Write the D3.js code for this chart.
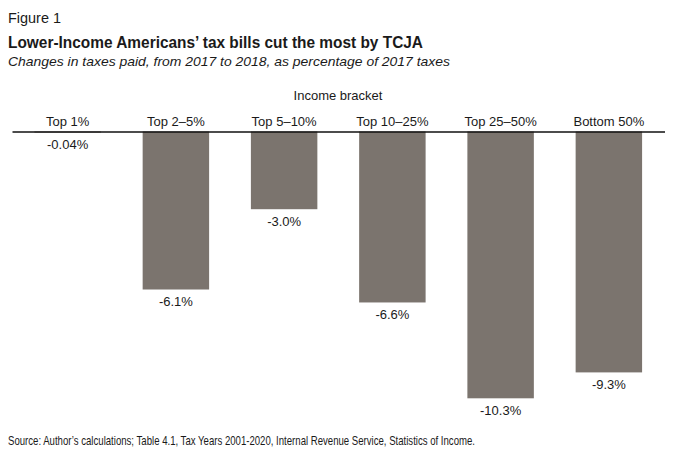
<!DOCTYPE html>
<html><head><meta charset="utf-8">
<script src="https://cdn.jsdelivr.net/npm/d3@7"></script>
<style>
body{margin:0;background:#fff;}
svg{display:block;}
text{font-family:"Liberation Sans",Arial,sans-serif;fill:#1a1a1a;}
</style></head>
<body>
<svg id="chart" width="680" height="468"></svg>
<script>
const categories = ["Top 1%", "Top 2\u20135%", "Top 5\u201310%", "Top 10\u201325%", "Top 25\u201350%", "Bottom 50%"];
const values = [-0.04, -6.1, -3.0, -6.6, -10.3, -9.3];
const valueLabels = ["-0.04%", "-6.1%", "-3.0%", "-6.6%", "-10.3%", "-9.3%"];

const svg = d3.select("#chart");
const W = 680, H = 468;
svg.append("rect").attr("width", W).attr("height", H).attr("fill", "#fff");

const x = d3.scaleBand().domain(categories).range([12, 664.5]).paddingInner(0.386).paddingOuter(0.207);
const y = d3.scaleLinear().domain([0, -10.3]).range([131.5, 398.3]);

// header
svg.append("text").attr("x", 8).attr("y", 23).attr("font-size", 14).text("Figure 1")
  .attr("textLength", 53).attr("lengthAdjust", "spacingAndGlyphs");
svg.append("text").attr("x", 8).attr("y", 48).attr("font-size", 17).attr("font-weight", "bold")
  .attr("textLength", 415).attr("lengthAdjust", "spacingAndGlyphs")
  .text("Lower-Income Americans\u2019 tax bills cut the most by TCJA");
svg.append("text").attr("x", 8).attr("y", 66).attr("font-size", 13.5).attr("font-style", "italic")
  .attr("textLength", 442).attr("lengthAdjust", "spacingAndGlyphs")
  .text("Changes in taxes paid, from 2017 to 2018, as percentage of 2017 taxes");

svg.append("text").attr("x", 338).attr("y", 100).attr("font-size", 13).attr("text-anchor", "middle")
  .text("Income bracket");

// bars
svg.selectAll("rect.bar").data(values).join("rect").attr("class", "bar")
  .attr("x", (d, i) => x(categories[i]))
  .attr("width", x.bandwidth())
  .attr("y", y(0))
  .attr("height", d => y(d) - y(0))
  .attr("fill", "#7b746e");

// axis
const axis = d3.axisTop(x).tickSize(0).tickPadding(6);
const g = svg.append("g").attr("transform", `translate(0,${y(0)})`).call(axis);
g.select(".domain").attr("stroke", "#111").attr("stroke-width", 1.3);
g.selectAll(".tick text").attr("font-size", 13).attr("fill", "#1a1a1a")
  .attr("font-family", "'Liberation Sans',Arial,sans-serif");

// value labels
svg.selectAll("text.val").data(values).join("text").attr("class", "val")
  .attr("x", (d, i) => x(categories[i]) + x.bandwidth() / 2)
  .attr("y", d => y(d) + 16.5)
  .attr("text-anchor", "middle").attr("font-size", 13)
  .text((d, i) => valueLabels[i]);

// source
svg.append("text").attr("x", 8).attr("y", 445).attr("font-size", 13)
  .attr("textLength", 467).attr("lengthAdjust", "spacingAndGlyphs")
  .text("Source: Author\u2019s calculations; Table 4.1, Tax Years 2001-2020, Internal Revenue Service, Statistics of Income.");
</script>
</body></html>
